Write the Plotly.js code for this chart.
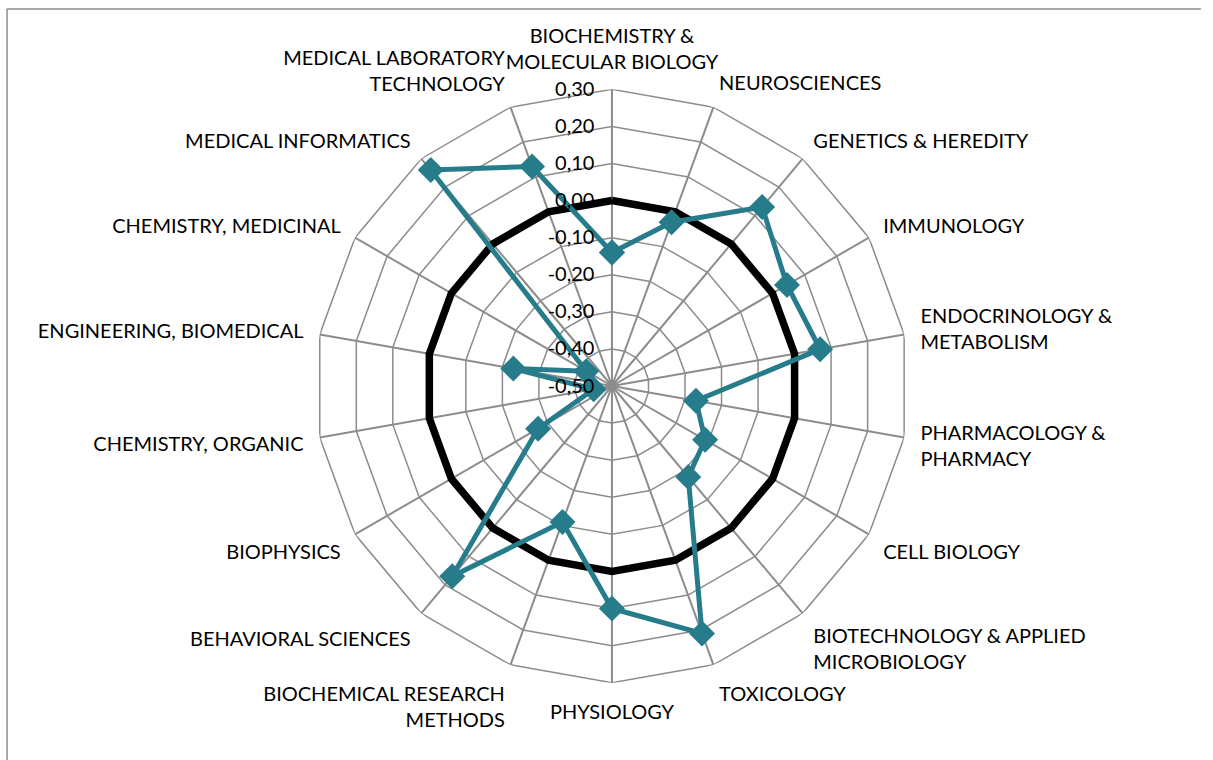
<!DOCTYPE html>
<html>
<head>
<meta charset="utf-8">
<script src="https://cdn.plot.ly/plotly-3.0.1.min.js"></script>
<style>
  html, body { margin: 0; padding: 0; background: #fff; }
  #chart { width: 1213px; height: 760px; }
</style>
</head>
<body>
<div id="chart"></div>
<script>
// categories, clockwise from the top
const categories = [
  'BIOCHEMISTRY &<br>MOLECULAR BIOLOGY',
  'NEUROSCIENCES',
  'GENETICS & HEREDITY',
  'IMMUNOLOGY',
  'ENDOCRINOLOGY &<br>METABOLISM',
  'PHARMACOLOGY &<br>PHARMACY',
  'CELL BIOLOGY',
  'BIOTECHNOLOGY & APPLIED<br>MICROBIOLOGY',
  'TOXICOLOGY',
  'PHYSIOLOGY',
  'BIOCHEMICAL RESEARCH<br>METHODS',
  'BEHAVIORAL SCIENCES',
  'BIOPHYSICS',
  'CHEMISTRY, ORGANIC',
  'ENGINEERING, BIOMEDICAL',
  'CHEMISTRY, MEDICINAL',
  'MEDICAL INFORMATICS',
  'MEDICAL LABORATORY<br>TECHNOLOGY'
];

const baseline = [0, 0, 0, 0, 0, 0, 0, 0, 0, 0, 0, 0, 0, 0, 0, 0, 0, 0];

const values = [-0.14, -0.03, 0.13, 0.045, 0.07, -0.27, -0.21, -0.18, 0.21,
                0.10, -0.11, 0.17, -0.27, -0.45, -0.23, -0.42, 0.26, 0.13];

const radialTicks = [-0.5, -0.4, -0.3, -0.2, -0.1, 0, 0.1, 0.2, 0.3];
const radialText = radialTicks.map(v => v.toFixed(2).replace('.', ','));

// close the loop
const close = arr => arr.concat([arr[0]]);

const teal = '#267C8B';
const grid = '#8c8c8c';

// polygon web: one ring per radial tick (Excel-style straight edges)
const rings = radialTicks.filter(v => v > radialTicks[0]).map(v => ({
  type: 'scatterpolar', mode: 'lines',
  r: close(categories.map(() => v)), theta: close(categories),
  line: { color: grid, width: 1.5 },
  hoverinfo: 'skip', showlegend: false
}));

const data = rings.concat([
  {
    type: 'scatterpolar', mode: 'lines',
    r: close(baseline), theta: close(categories),
    line: { color: '#000000', width: 7.5 },
    hoverinfo: 'skip', showlegend: false
  },
  {
    type: 'scatterpolar', mode: 'lines+markers',
    r: close(values), theta: close(categories),
    line: { color: teal, width: 5 },
    marker: { symbol: 'diamond', size: 20, color: teal },
    cliponaxis: false,
    showlegend: false
  }
]);

const layout = {
  width: 1213, height: 760,
  margin: { l: 0, r: 0, t: 0, b: 0 },
  paper_bgcolor: '#fff',
  font: { family: 'Lato, "Open Sans", sans-serif', size: 20, color: '#000' },
  showlegend: false,
  polar: {
    domain: { x: [0.2599, 0.7491], y: [0.1017, 0.8825] },
    bgcolor: 'rgba(0,0,0,0)',
    radialaxis: {
      range: [-0.5, 0.3],
      tickvals: radialTicks,
      ticktext: radialText,
      angle: 90,
      tickangle: 90,
      side: 'counterclockwise',
      showline: false,
      showgrid: false,
      ticks: 'outside', ticklen: 10, tickcolor: 'rgba(0,0,0,0)',
      tickfont: { size: 20, color: '#000' }
    },
    angularaxis: {
      rotation: 90, direction: 'clockwise',
      type: 'category',
      gridcolor: grid, gridwidth: 1.5,
      showline: false,
      ticks: 'outside', ticklen: 12, tickcolor: 'rgba(0,0,0,0)',
      tickfont: { size: 20, color: '#000' }
    }
  },
  shapes: [
    { type: 'line', xref: 'paper', yref: 'paper', x0: 0.0058, x1: 0.99, y0: 0.988, y1: 0.988,
      line: { color: grid, width: 1.5 } },
    { type: 'line', xref: 'paper', yref: 'paper', x0: 0.0058, x1: 0.0058, y0: 0, y1: 0.988,
      line: { color: grid, width: 1.5 } }
  ]
};

Plotly.newPlot('chart', data, layout, { displayModeBar: false });
</script>
</body>
</html>
